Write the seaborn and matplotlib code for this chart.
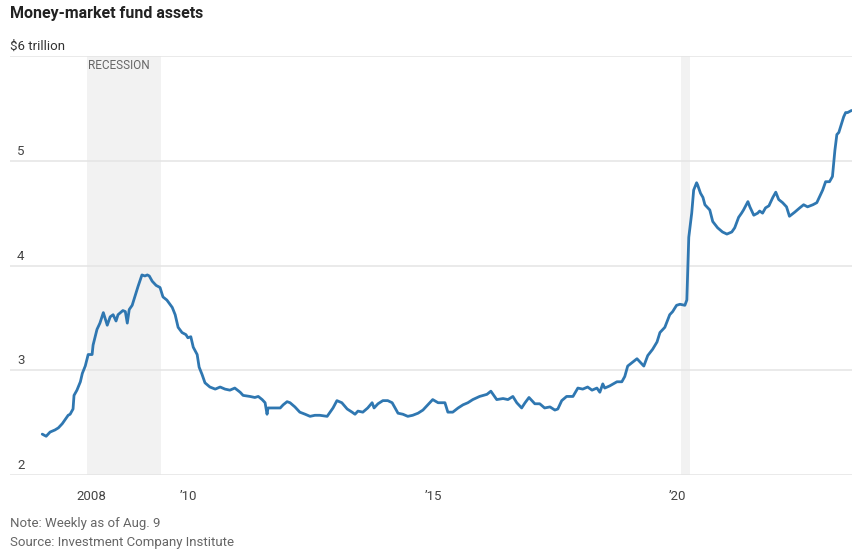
import matplotlib
matplotlib.use("Agg")
import matplotlib.pyplot as plt
import matplotlib.transforms as mtransforms
from matplotlib.ticker import FixedLocator, NullFormatter
import seaborn as sns
import pandas as pd

# Data: decimal year, assets in $ trillion
years = [
    2007.00, 2007.08, 2007.16, 2007.26, 2007.33, 2007.41, 2007.47, 2007.53, 2007.57, 2007.63,
    2007.65, 2007.71, 2007.78, 2007.82, 2007.88, 2007.94, 2008.02, 2008.04, 2008.12, 2008.18,
    2008.25, 2008.33, 2008.39, 2008.45, 2008.51, 2008.55, 2008.65, 2008.70, 2008.74, 2008.78,
    2008.84, 2008.92, 2008.96, 2009.04, 2009.10, 2009.15, 2009.19, 2009.25, 2009.33, 2009.41,
    2009.47, 2009.55, 2009.66, 2009.72, 2009.78, 2009.86, 2009.94, 2009.98, 2010.04, 2010.09,
    2010.17, 2010.21, 2010.27, 2010.33, 2010.43, 2010.54, 2010.64, 2010.74, 2010.84, 2010.94,
    2011.05, 2011.11, 2011.25, 2011.35, 2011.42, 2011.50, 2011.56, 2011.60, 2011.62, 2011.72,
    2011.87, 2011.93, 2012.01, 2012.07, 2012.17, 2012.27, 2012.38, 2012.48, 2012.58, 2012.68,
    2012.83, 2012.89, 2012.95, 2013.03, 2013.13, 2013.24, 2013.34, 2013.40, 2013.46, 2013.56,
    2013.66, 2013.75, 2013.79, 2013.87, 2013.97, 2014.07, 2014.16, 2014.28, 2014.38, 2014.48,
    2014.58, 2014.69, 2014.79, 2014.89, 2014.99, 2015.10, 2015.24, 2015.30, 2015.40, 2015.51,
    2015.61, 2015.71, 2015.81, 2015.95, 2016.10, 2016.18, 2016.30, 2016.43, 2016.53, 2016.63,
    2016.71, 2016.81, 2016.88, 2016.96, 2017.08, 2017.18, 2017.28, 2017.39, 2017.49, 2017.55,
    2017.63, 2017.73, 2017.86, 2017.96, 2018.06, 2018.16, 2018.25, 2018.35, 2018.41, 2018.47,
    2018.51, 2018.61, 2018.76, 2018.86, 2018.92, 2018.98, 2019.06, 2019.17, 2019.23, 2019.31,
    2019.39, 2019.49, 2019.58, 2019.64, 2019.74, 2019.84, 2019.90, 2019.98, 2020.05, 2020.15,
    2020.19, 2020.21, 2020.23, 2020.29, 2020.33, 2020.39, 2020.41, 2020.47, 2020.52, 2020.56,
    2020.66, 2020.72, 2020.82, 2020.92, 2021.01, 2021.11, 2021.17, 2021.25, 2021.31, 2021.35,
    2021.44, 2021.48, 2021.56, 2021.64, 2021.68, 2021.74, 2021.80, 2021.87, 2021.95, 2022.01,
    2022.07, 2022.15, 2022.23, 2022.29, 2022.40, 2022.50, 2022.58, 2022.66, 2022.77, 2022.85,
    2022.91, 2022.97, 2023.03, 2023.11, 2023.17, 2023.22, 2023.26, 2023.30, 2023.36, 2023.40,
    2023.44, 2023.48, 2023.56,
]
assets = [
    2.39, 2.37, 2.41, 2.43, 2.45, 2.49, 2.53, 2.57, 2.58, 2.63,
    2.76, 2.81, 2.89, 2.97, 3.04, 3.15, 3.15, 3.24, 3.39, 3.45,
    3.55, 3.43, 3.51, 3.53, 3.47, 3.53, 3.57, 3.56, 3.45, 3.58,
    3.62, 3.74, 3.80, 3.91, 3.90, 3.91, 3.90, 3.85, 3.81, 3.79,
    3.70, 3.67, 3.60, 3.53, 3.41, 3.36, 3.34, 3.31, 3.32, 3.22,
    3.15, 3.03, 2.96, 2.88, 2.84, 2.82, 2.84, 2.82, 2.81, 2.83,
    2.79, 2.76, 2.75, 2.74, 2.75, 2.72, 2.69, 2.58, 2.64, 2.64,
    2.64, 2.67, 2.70, 2.69, 2.65, 2.60, 2.58, 2.56, 2.57, 2.57,
    2.56, 2.60, 2.64, 2.71, 2.69, 2.63, 2.60, 2.58, 2.61, 2.60,
    2.64, 2.69, 2.64, 2.68, 2.71, 2.71, 2.69, 2.59, 2.58, 2.56,
    2.57, 2.59, 2.62, 2.67, 2.72, 2.69, 2.69, 2.60, 2.60, 2.64,
    2.67, 2.69, 2.72, 2.75, 2.77, 2.80, 2.72, 2.73, 2.72, 2.75,
    2.69, 2.64, 2.69, 2.74, 2.68, 2.68, 2.64, 2.65, 2.62, 2.63,
    2.71, 2.75, 2.75, 2.83, 2.82, 2.84, 2.81, 2.83, 2.79, 2.87,
    2.83, 2.85, 2.89, 2.89, 2.94, 3.04, 3.07, 3.11, 3.08, 3.04,
    3.14, 3.20, 3.27, 3.36, 3.41, 3.53, 3.56, 3.62, 3.63, 3.62,
    3.67, 3.96, 4.27, 4.50, 4.72, 4.79, 4.77, 4.69, 4.65, 4.58,
    4.53, 4.42, 4.36, 4.32, 4.30, 4.32, 4.36, 4.46, 4.50, 4.53,
    4.61, 4.56, 4.48, 4.50, 4.52, 4.50, 4.55, 4.57, 4.65, 4.70,
    4.63, 4.60, 4.56, 4.47, 4.51, 4.55, 4.58, 4.56, 4.58, 4.60,
    4.66, 4.72, 4.80, 4.80, 4.85, 5.10, 5.25, 5.27, 5.36, 5.42,
    5.46, 5.46, 5.48,
]

# Recession periods (decimal years)
recessions = [(2007.92, 2009.42), (2020.08, 2020.26)]

y_ticks = [2, 3, 4, 5, 6]
y_labels = ["2", "3", "4", "5", "$6 trillion"]
x_major = [2008, 2010, 2015, 2020]
x_major_labels = ["2008", "\u201910", "\u201915", "\u201920"]
x_minor = list(range(2007, 2024))

df = pd.DataFrame({"year": years, "assets": assets})

sns.set_style("white")
plt.rcParams["font.family"] = ["Roboto", "DejaVu Sans"]

fig = plt.figure(figsize=(8.52, 5.51), dpi=100)
ax = fig.add_axes([10 / 852, 1 - 475 / 551, 842 / 852, 419 / 551])

# Recession shading
for start, end in recessions:
    ax.axvspan(start, end, color="#f2f2f2", lw=0, zorder=0)

# Horizontal gridlines
for v in y_ticks:
    ax.axhline(v, color="#e4e4e4", lw=1.1, zorder=1)

sns.lineplot(data=df, x="year", y="assets", ax=ax, color="#2f77b1", lw=2.0, zorder=3)

ax.set_xlim(2006.34, 2023.57)
ax.set_ylim(2, 6)
for s in ax.spines.values():
    s.set_visible(False)

ax.set_xlabel("")
ax.set_ylabel("")
ax.set_yticks([])

ax.xaxis.set_major_locator(FixedLocator(x_major))
ax.xaxis.set_minor_locator(FixedLocator(x_minor))
ax.xaxis.set_minor_formatter(NullFormatter())
ax.set_xticklabels(x_major_labels)
ax.tick_params(axis="x", which="major", length=5, width=1.1, color="#333333",
               labelsize=9.5, labelcolor="#444444", pad=6)
ax.tick_params(axis="x", which="minor", length=3, width=1.1, color="#333333")

# Y labels sit just above their gridlines, inside the plot
trans = mtransforms.blended_transform_factory(ax.transAxes, ax.transData)
for v, lab in zip(y_ticks, y_labels):
    dx = 0 if v == 6 else 7
    ax.annotate(lab, xy=(0, v), xycoords=trans, xytext=(dx, 3), textcoords="offset pixels",
                ha="left", va="bottom", fontsize=9.5, color="#444444" if v != 6 else "#333333",
                annotation_clip=False)

ax.annotate("RECESSION", xy=(recessions[0][0], 6), xycoords="data", xytext=(1, -3),
            textcoords="offset pixels", ha="left", va="top", fontsize=8.5, color="#666666")

fig.text(10 / 852, 1 - 6 / 551, "Money-market fund assets", ha="left", va="top",
         fontsize=11.5, fontweight="bold", color="#222222")
fig.text(10 / 852, 1 - 527 / 551, "Note: Weekly as of Aug. 9", ha="left", va="baseline",
         fontsize=9.5, color="#666666")
fig.text(10 / 852, 1 - 546 / 551, "Source: Investment Company Institute", ha="left",
         va="baseline", fontsize=9.5, color="#666666")

fig.savefig("out.png", dpi=100)
